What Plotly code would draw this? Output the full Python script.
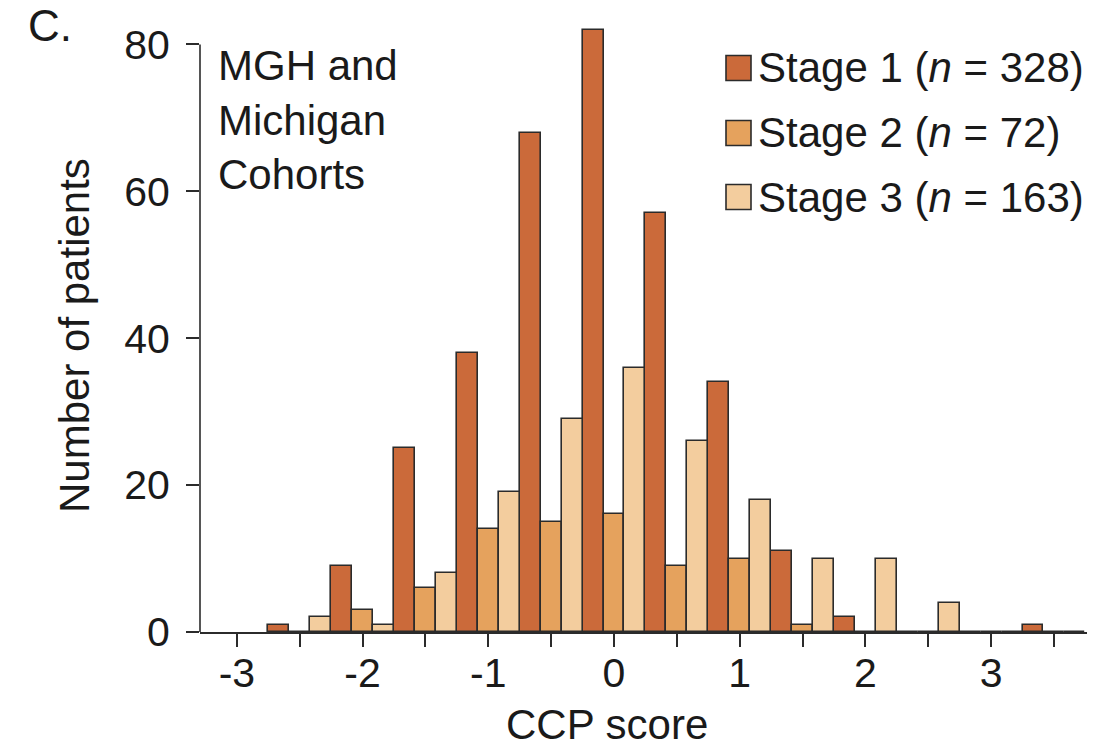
import plotly.graph_objects as go

# Bin centres (CCP score), bin width 0.5
bin_centers = [-2.5, -2.0, -1.5, -1.0, -0.5, 0.0, 0.5, 1.0, 1.5, 2.0, 2.5, 3.0, 3.5]
stage1 = [1, 9, 25, 38, 68, 82, 57, 34, 11, 2, 0, 0, 1]
stage2 = [0, 3, 6, 14, 15, 16, 9, 10, 1, 0, 0, 0, 0]
stage3 = [2, 1, 8, 19, 29, 36, 26, 18, 10, 10, 4, 0, 0]

series_names = ["Stage 1 (<i>n</i> = 328)", "Stage 2 (<i>n</i> = 72)", "Stage 3 (<i>n</i> = 163)"]
series_colors = ["#CB6A3A", "#E5A25D", "#F3CD9E"]

x_tickvals = [-3.0, -2.5, -2.0, -1.5, -1.0, -0.5, 0.0, 0.5, 1.0, 1.5, 2.0, 2.5, 3.0, 3.5]
x_ticktext = ["-3", "", "-2", "", "-1", "", "0", "", "1", "", "2", "", "3", ""]
y_tickvals = [0, 20, 40, 60, 80]
y_axis_top = 80

FONT = "Liberation Sans, Arial, Helvetica, sans-serif"
TXT = "#1a1a1a"
EDGE = "#2b2b2b"

W, H = 1110, 749
ML, MR, MT, MB = 200, 23, 15, 117
PW, PH = W - ML - MR, H - MT - MB


def px_x(px):
    return (px - ML) / PW


def px_y(py):
    return 1 - (py - MT) / PH


fig = go.Figure()
for name, vals, col in zip(series_names, [stage1, stage2, stage3], series_colors):
    fig.add_trace(go.Bar(
        x=bin_centers, y=vals, name=name,
        marker=dict(color=col, line=dict(color=EDGE, width=1.6)),
        showlegend=False,
    ))

fig.update_layout(
    width=W, height=H,
    margin=dict(l=ML, r=MR, t=MT, b=MB),
    paper_bgcolor="white", plot_bgcolor="white",
    barmode="group", bargap=0, bargroupgap=0,
    font=dict(family=FONT, size=41, color=TXT),
)

fig.update_xaxes(
    range=[-3.2936, 3.763], tickmode="array", tickvals=x_tickvals, ticktext=x_ticktext,
    showline=True, linecolor=EDGE, linewidth=1.6,
    ticks="outside", ticklen=13, tickwidth=1.6, tickcolor=EDGE,
    showgrid=False, zeroline=False, ticklabelstandoff=-9,
    tickfont=dict(family=FONT, size=41, color=TXT),
)
fig.update_yaxes(
    range=[0, 84], tickmode="array", tickvals=y_tickvals,
    showline=False,
    ticks="outside", ticklen=13, tickwidth=1.6, tickcolor=EDGE,
    showgrid=False, zeroline=False, ticklabelstandoff=8,
    tickfont=dict(family=FONT, size=41, color=TXT),
)

annotations = [
    dict(text="CCP score", xref="paper", yref="paper", x=px_x(607), y=px_y(724),
         xanchor="center", yanchor="middle", showarrow=False,
         font=dict(family=FONT, size=42, color=TXT)),
    dict(text="Number of patients", xref="paper", yref="paper", x=px_x(74), y=px_y(336),
         xanchor="center", yanchor="middle", textangle=-90, showarrow=False,
         font=dict(family=FONT, size=42, color=TXT)),
    dict(text="C.", xref="paper", yref="paper", x=px_x(26), y=px_y(26),
         xanchor="left", yanchor="middle", showarrow=False,
         font=dict(family=FONT, size=44, color=TXT)),
    dict(text="MGH and<br>Michigan<br>Cohorts", xref="paper", yref="paper", x=px_x(216), y=px_y(40),
         xanchor="left", yanchor="top", align="left", showarrow=False,
         font=dict(family=FONT, size=42, color=TXT)),
]

# y-axis line only from 0 to the top tick
shapes = [dict(type="line", xref="paper", yref="y", x0=0, x1=0, y0=0, y1=y_axis_top,
               line=dict(color=EDGE, width=1.6), layer="above")]

# Custom legend (squares + labels)
legend_y_px = [68, 133, 197]
for name, col, ypx in zip(series_names, series_colors, legend_y_px):
    yc = px_y(ypx)
    half = 12.5 / PH
    shapes.append(dict(type="rect", xref="paper", yref="paper",
                       x0=px_x(726), x1=px_x(751), y0=yc - half, y1=yc + half,
                       fillcolor=col, line=dict(color=EDGE, width=1.6)))
    annotations.append(dict(text=name, xref="paper", yref="paper",
                            x=px_x(756), y=yc, xanchor="left", yanchor="middle",
                            showarrow=False, font=dict(family=FONT, size=42, color=TXT)))

fig.update_layout(annotations=annotations, shapes=shapes)

fig.write_html("out.html")
